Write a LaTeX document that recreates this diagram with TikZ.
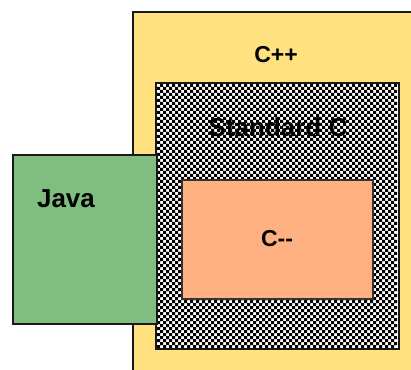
\documentclass[tikz,border=0pt]{standalone}
\usepackage{fontspec}
\setmainfont{Liberation Sans}

\definecolor{cppyellow}{RGB}{255,225,128}
\definecolor{javagreen}{RGB}{128,190,128}
\definecolor{cmmorange}{RGB}{255,176,128}

\tikzset{
  langbox/.style={draw=black!90, line width=2pt, inner sep=0pt},
  langlabel/.style={text=black, inner sep=0pt, anchor=base},
  smalllabel/.style={langlabel, font=\fontsize{23}{27}\bfseries\selectfont},
  biglabel/.style={langlabel, font=\fontsize{26}{30}\bfseries\selectfont},
}

\begin{document}
\begin{tikzpicture}[x=1pt, y=1pt]
  \useasboundingbox (0,0) rectangle (411,369);
  \fill[white] (0,0) rectangle (411,369);
  \clip (0,0) rectangle (411,369);

  % C++ (runs past the right and bottom edges)
  \node (cpp) [langbox, fill=cppyellow, minimum width=292pt, minimum height=368pt] at (279,173) {};

  % Standard C: white box covered with a 3pt black-and-white checkerboard
  \node (stdc) [langbox, draw=none, fill=white, minimum width=241pt, minimum height=264pt] at (277.5,153) {};
  \begin{scope}
    \clip (stdc.south west) rectangle (stdc.north east);
    \fill[black]
      \foreach \j in {0,...,43} {
        \foreach \i in {0,...,39} {
          (157+6*\i, 21+6*\j) rectangle ++(3,3)
          (160+6*\i, 24+6*\j) rectangle ++(3,3)
        }
      };
  \end{scope}
  \draw[black!90, line width=2pt] (stdc.south west) rectangle (stdc.north east);

  % Java
  \node (java) [langbox, fill=javagreen, minimum width=144pt, minimum height=169pt] at (85,129.5) {};
  % C--
  \node (cmm) [langbox, draw=black!80, fill=cmmorange, minimum width=191pt, minimum height=119pt] at (277.5,129.5) {};

  \node (cpplabel)  [smalllabel] at (276,306) {C++};
  \node (stdclabel) [biglabel]   at (278,232) {Standard C};
  \node (javalabel) [biglabel]   at (66,161)  {Java};
  \node (cmmlabel)  [smalllabel] at (277,122) {C-{}-};
\end{tikzpicture}
\end{document}
